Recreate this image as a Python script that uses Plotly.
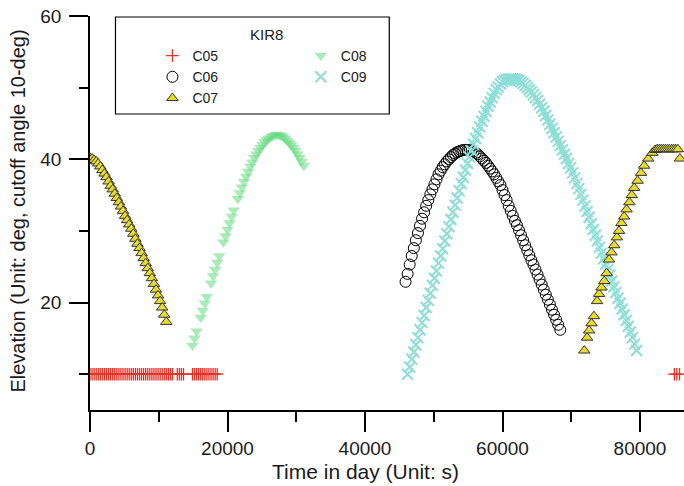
import plotly.graph_objects as go

# ---------------- data ----------------
c05_t = [0, 300, 600, 900, 1200, 1500, 1800, 2100, 2400, 2700,
         3000, 3300, 3600, 3900, 4200, 4500, 4800, 5100, 5400, 5700,
         6000, 6300, 6600, 6900, 7200, 7500, 7800, 8100, 8400, 8700,
         9000, 9300, 9600, 9900, 10200, 10500, 10800, 11100, 11400, 11700,
         12000, 12700, 13000, 13300, 13600,
         14900, 15200, 15500, 15800, 16100, 16400, 16700, 17000, 17300, 17600,
         17900, 18200, 18500,
         85000, 85350, 85750]
c05_el = [10.0, 10.0, 10.0, 10.0, 10.0, 10.0, 10.0, 10.0, 10.0, 10.0,
          10.0, 10.0, 10.0, 10.0, 10.0, 10.0, 10.0, 10.0, 10.0, 10.0,
          10.0, 10.0, 10.0, 10.0, 10.0, 10.0, 10.0, 10.0, 10.0, 10.0,
          10.0, 10.0, 10.0, 10.0, 10.0, 10.0, 10.0, 10.0, 10.0, 10.0,
          10.0, 10.0, 10.0, 10.0, 10.0,
          10.0, 10.0, 10.0, 10.0, 10.0, 10.0, 10.0, 10.0, 10.0, 10.0,
          10.0, 10.0, 10.0,
          10.0, 10.0, 10.0]

c06_t = [45900, 46200, 46500, 46800, 47100, 47400, 47700, 48000, 48300, 48600,
         48900, 49200, 49500, 49800, 50100, 50400, 50700, 51000, 51300, 51600,
         51900, 52200, 52500, 52800, 53100, 53400, 53700, 54000, 54300, 54600,
         54900, 55200, 55500, 55800, 56100, 56400, 56700, 57000, 57300, 57600,
         57900, 58200, 58500, 58800, 59100, 59400, 59700, 60000, 60300, 60600,
         60900, 61200, 61500, 61800, 62100, 62400, 62700, 63000, 63300, 63600,
         63900, 64200, 64500, 64800, 65100, 65400, 65700, 66000, 66300, 66600,
         66900, 67200, 67500, 67800, 68100, 68400]
c06_el = [22.9, 24.0, 25.3, 26.5, 27.6, 28.7, 29.7, 30.7, 31.7, 32.6,
          33.5, 34.3, 35.1, 35.8, 36.5, 37.2, 37.9, 38.4, 38.9, 39.3,
          39.7, 40.0, 40.3, 40.6, 40.8, 41.0, 41.1, 41.2, 41.3, 41.3,
          41.3, 41.3, 41.2, 41.1, 40.9, 40.7, 40.4, 40.1, 39.8, 39.5,
          39.1, 38.7, 38.3, 37.9, 37.4, 36.9, 36.4, 35.7, 35.0, 34.3,
          33.5, 32.8, 32.1, 31.4, 30.8, 30.1, 29.4, 28.7, 28.0, 27.3,
          26.6, 25.9, 25.3, 24.6, 23.9, 23.2, 22.5, 21.8, 21.1, 20.4,
          19.7, 19.0, 18.3, 17.6, 16.9, 16.2]

c07_t = [0, 300, 600, 900, 1200, 1500, 1800, 2100, 2400, 2700,
         3000, 3300, 3600, 3900, 4200, 4500, 4800, 5100, 5400, 5700,
         6000, 6300, 6600, 6900, 7200, 7500, 7800, 8100, 8400, 8700,
         9000, 9300, 9600, 9900, 10200, 10500, 10800, 11100,
         71900, 72300, 72600, 72950, 73300, 73750, 74050, 74400, 74800, 75150,
         75500, 75850, 76250, 76650, 76950, 77300, 77700, 78050, 78450, 78800,
         79150, 79650, 80150, 80600, 81200, 81800, 82200, 82500, 82800, 83100,
         83400, 83700, 84000, 84300, 84600, 84900, 85200, 85500, 85800]
c07_el = [40.2, 40.1, 39.9, 39.7, 39.4, 39.0, 38.5, 38.0, 37.5, 36.9,
          36.3, 35.8, 35.2, 34.6, 34.0, 33.4, 32.8, 32.1, 31.5, 30.9,
          30.3, 29.6, 28.9, 28.2, 27.6, 26.9, 26.2, 25.5, 24.8, 24.1,
          23.4, 22.6, 21.8, 21.0, 20.2, 19.3, 18.3, 17.3,
          13.3, 15.1, 16.1, 17.1, 18.1, 20.2, 21.2, 22.1, 23.0, 24.1,
          26.0, 27.0, 28.0, 29.1, 30.0, 31.1, 32.0, 33.0, 34.0, 35.0,
          36.0, 37.0, 38.1, 39.1, 40.1, 40.9, 41.3, 41.4, 41.4, 41.4,
          41.4, 41.4, 41.4, 41.4, 41.4, 41.4, 41.4, 41.4, 40.1]

c08_t = [14900, 15200, 15500,
         16100, 16400, 16700, 17000,
         17600, 17900, 18200, 18500, 18800,
         19400, 19700, 20000, 20300, 20600, 20900,
         21500, 21800, 22100, 22400, 22700, 23000, 23300, 23600, 23900, 24200,
         24500, 24800, 25100, 25400, 25700, 26000, 26300, 26600, 26900, 27200,
         27500, 27800, 28100, 28400, 28700, 29000, 29300, 29600, 29900, 30200,
         30500, 30800, 31100]
c08_el = [14.0, 15.0, 16.0,
          17.9, 18.9, 19.9, 20.8,
          22.7, 23.7, 24.6, 25.6, 26.5,
          28.4, 29.3, 30.2, 31.1, 32.0, 32.9,
          34.5, 35.3, 36.1, 36.9, 37.6, 38.3, 39.0, 39.6, 40.2, 40.7,
          41.2, 41.6, 42.0, 42.4, 42.7, 42.9, 43.1, 43.3, 43.4, 43.4,
          43.4, 43.3, 43.1, 42.9, 42.6, 42.3, 42.0, 41.6, 41.2, 40.7,
          40.2, 39.7, 39.1]

c09_t = [46200, 46500, 46800, 47100, 47400, 47700, 48000, 48300, 48600, 48900,
         49200, 49500, 49800, 50100, 50400, 50700, 51000, 51300, 51600, 51900,
         52200, 52500, 52800, 53100, 53400, 53700, 54000, 54300, 54600, 54900,
         55200, 55500, 55800, 56100, 56400, 56700, 57000, 57300, 57600, 57900,
         58200, 58500, 58800, 59100, 59400, 59700, 60000, 60300, 60600, 60900,
         61200, 61500, 61800, 62100, 62400, 62700, 63000, 63300, 63600, 63900,
         64200, 64500, 64800, 65100, 65400, 65700, 66000, 66300, 66600, 66900,
         67200, 67500, 67800, 68100, 68400, 68700, 69000, 69300, 69600, 69900,
         70200, 70500, 70800, 71100, 71400, 71700, 72000, 72300, 72600, 72900,
         73200, 73500, 73800, 74100, 74400, 74700, 75000, 75300, 75600, 75900,
         76200, 76500, 76800, 77100, 77400, 77700, 78000, 78300, 78600, 78900,
         79200, 79500]
c09_el = [10.0, 11.0, 12.1, 13.1, 14.1, 15.1, 16.2, 17.2, 18.2, 19.3,
          20.3, 21.3, 22.4, 23.4, 24.4, 25.5, 26.5, 27.5, 28.6, 29.6,
          30.6, 31.6, 32.6, 33.6, 34.6, 35.6, 36.6, 37.5, 38.5, 39.4,
          40.3, 41.2, 42.1, 42.9, 43.7, 44.5, 45.3, 46.0, 46.7, 47.4,
          48.0, 48.6, 49.2, 49.7, 50.1, 50.5, 50.8, 51.0, 51.1, 51.2,
          51.2, 51.2, 51.2, 51.1, 51.0, 50.8, 50.6, 50.3, 50.0, 49.7,
          49.4, 49.0, 48.6, 48.2, 47.7, 47.2, 46.7, 46.1, 45.5, 44.9,
          44.3, 43.7, 43.1, 42.5, 41.9, 41.3, 40.7, 40.1, 39.4, 38.8,
          38.1, 37.4, 36.6, 35.9, 35.1, 34.3, 33.5, 32.7, 31.9, 31.0,
          30.2, 29.4, 28.6, 27.7, 26.9, 26.1, 25.3, 24.6, 23.8, 23.0,
          22.2, 21.4, 20.6, 19.9, 19.1, 18.3, 17.5, 16.7, 15.9, 15.1,
          14.2, 13.3]

x_tickvals = [0, 20000, 40000, 60000, 80000]
x_ticktext = ["0", "20000", "40000", "60000", "80000"]
x_minor = [10000, 30000, 50000, 70000]
y_tickvals = [20, 40, 60]
y_ticktext = ["20", "40", "60"]
y_minor = [10, 30, 50]

legend_title = "KIR8"
x_title = "Time in day (Unit: s)"
y_title = "Elevation (Unit: deg, cutoff angle 10-deg)"

# ---------------- figure ----------------
FONT = "Liberation Sans, Arial, Helvetica, sans-serif"
TXT = "#1a1a1a"

fig = go.Figure()

fig.add_trace(go.Scatter(
    x=c05_t, y=c05_el, mode="markers", name="C05", legend="legend", legendrank=1,
    marker=dict(symbol="cross-thin", size=9, color="rgb(228,50,38)",
                line=dict(color="rgb(228,50,38)", width=1.3))))
fig.add_trace(go.Scatter(
    x=c06_t, y=c06_el, mode="markers", name="C06", legend="legend", legendrank=2,
    marker=dict(symbol="circle-open", size=11, color="black",
                line=dict(color="black", width=1))))
fig.add_trace(go.Scatter(
    x=c08_t, y=c08_el, mode="markers", name="C08", legend="legend2", legendrank=4,
    marker=dict(symbol="triangle-down", size=11, color="rgb(100,219,128)",
                opacity=0.55, line=dict(width=0))))
fig.add_trace(go.Scatter(
    x=c09_t, y=c09_el, mode="markers", name="C09", legend="legend2", legendrank=5,
    marker=dict(symbol="x-thin", size=11, color="rgb(140,222,214)",
                line=dict(color="rgb(140,222,214)", width=2))))
fig.add_trace(go.Scatter(
    x=c07_t, y=c07_el, mode="markers", name="C07", legend="legend", legendrank=3,
    marker=dict(symbol="triangle-up", size=10, color="rgb(232,220,40)",
                line=dict(color="#333333", width=1))))

W, H = 684, 486
L, R, T, B = 89.5, 0, 16, 76
pw = W - L - R
ph = H - T - B


def px_to_paper_x(px):
    return (px - L) / pw


def px_to_paper_y(py):
    return 1 - (py - T) / ph


leg_common = dict(
    bgcolor="rgba(0,0,0,0)", borderwidth=0,
    font=dict(family=FONT, size=14, color=TXT),
    xanchor="left", yanchor="top", orientation="v",
    tracegroupgap=0, itemclick=False, itemdoubleclick=False,
)

fig.update_layout(
    width=W, height=H,
    margin=dict(l=L, r=R, t=T, b=B, pad=0, autoexpand=False),
    paper_bgcolor="white", plot_bgcolor="white",
    font=dict(family=FONT, color=TXT),
    showlegend=True,
    legend=dict(x=px_to_paper_x(152), y=px_to_paper_y(40), **leg_common),
    legend2=dict(x=px_to_paper_x(300.5), y=px_to_paper_y(40), **leg_common),
    xaxis=dict(
        range=[0, 86400], showgrid=False, zeroline=False,
        showline=True, linecolor="black", linewidth=1.5,
        ticks="outside", ticklen=20, tickwidth=1.5, tickcolor="black",
        tickvals=x_tickvals, ticktext=x_ticktext,
        tickfont=dict(family=FONT, size=19, color=TXT),
        minor=dict(tickvals=x_minor, ticks="outside", ticklen=10,
                   tickwidth=1.5, tickcolor="black", showgrid=False),
    ),
    yaxis=dict(
        range=[5, 60], showgrid=False, zeroline=False,
        showline=True, linecolor="black", linewidth=1.5,
        ticks="outside", ticklen=19, tickwidth=1.5, tickcolor="black",
        tickvals=y_tickvals, ticktext=y_ticktext,
        tickfont=dict(family=FONT, size=19, color=TXT),
        ticklabelstandoff=4,
        minor=dict(tickvals=y_minor, ticks="outside", ticklen=9,
                   tickwidth=1.5, tickcolor="black", showgrid=False),
    ),
    shapes=[dict(type="rect", xref="paper", yref="paper",
                 x0=px_to_paper_x(115), x1=px_to_paper_x(389),
                 y0=px_to_paper_y(114), y1=px_to_paper_y(17),
                 line=dict(color="black", width=1.2),
                 fillcolor="rgba(0,0,0,0)", layer="above")],
    annotations=[
        dict(text=legend_title, xref="paper", yref="paper",
             x=px_to_paper_x(266), y=px_to_paper_y(35),
             xanchor="center", yanchor="middle", showarrow=False,
             font=dict(family=FONT, size=15, color=TXT)),
        dict(text=x_title, xref="paper", yref="paper",
             x=px_to_paper_x(365), y=px_to_paper_y(472),
             xanchor="center", yanchor="middle", showarrow=False,
             font=dict(family=FONT, size=21, color=TXT)),
        dict(text=y_title, xref="paper", yref="paper",
             x=px_to_paper_x(17), y=px_to_paper_y(211),
             xanchor="center", yanchor="middle", showarrow=False,
             textangle=-90,
             font=dict(family=FONT, size=20, color=TXT)),
    ],
)

fig.write_html("out.html",
               config={"displayModeBar": False},
               post_script="document.body.style.margin='0';document.body.style.padding='0';")
